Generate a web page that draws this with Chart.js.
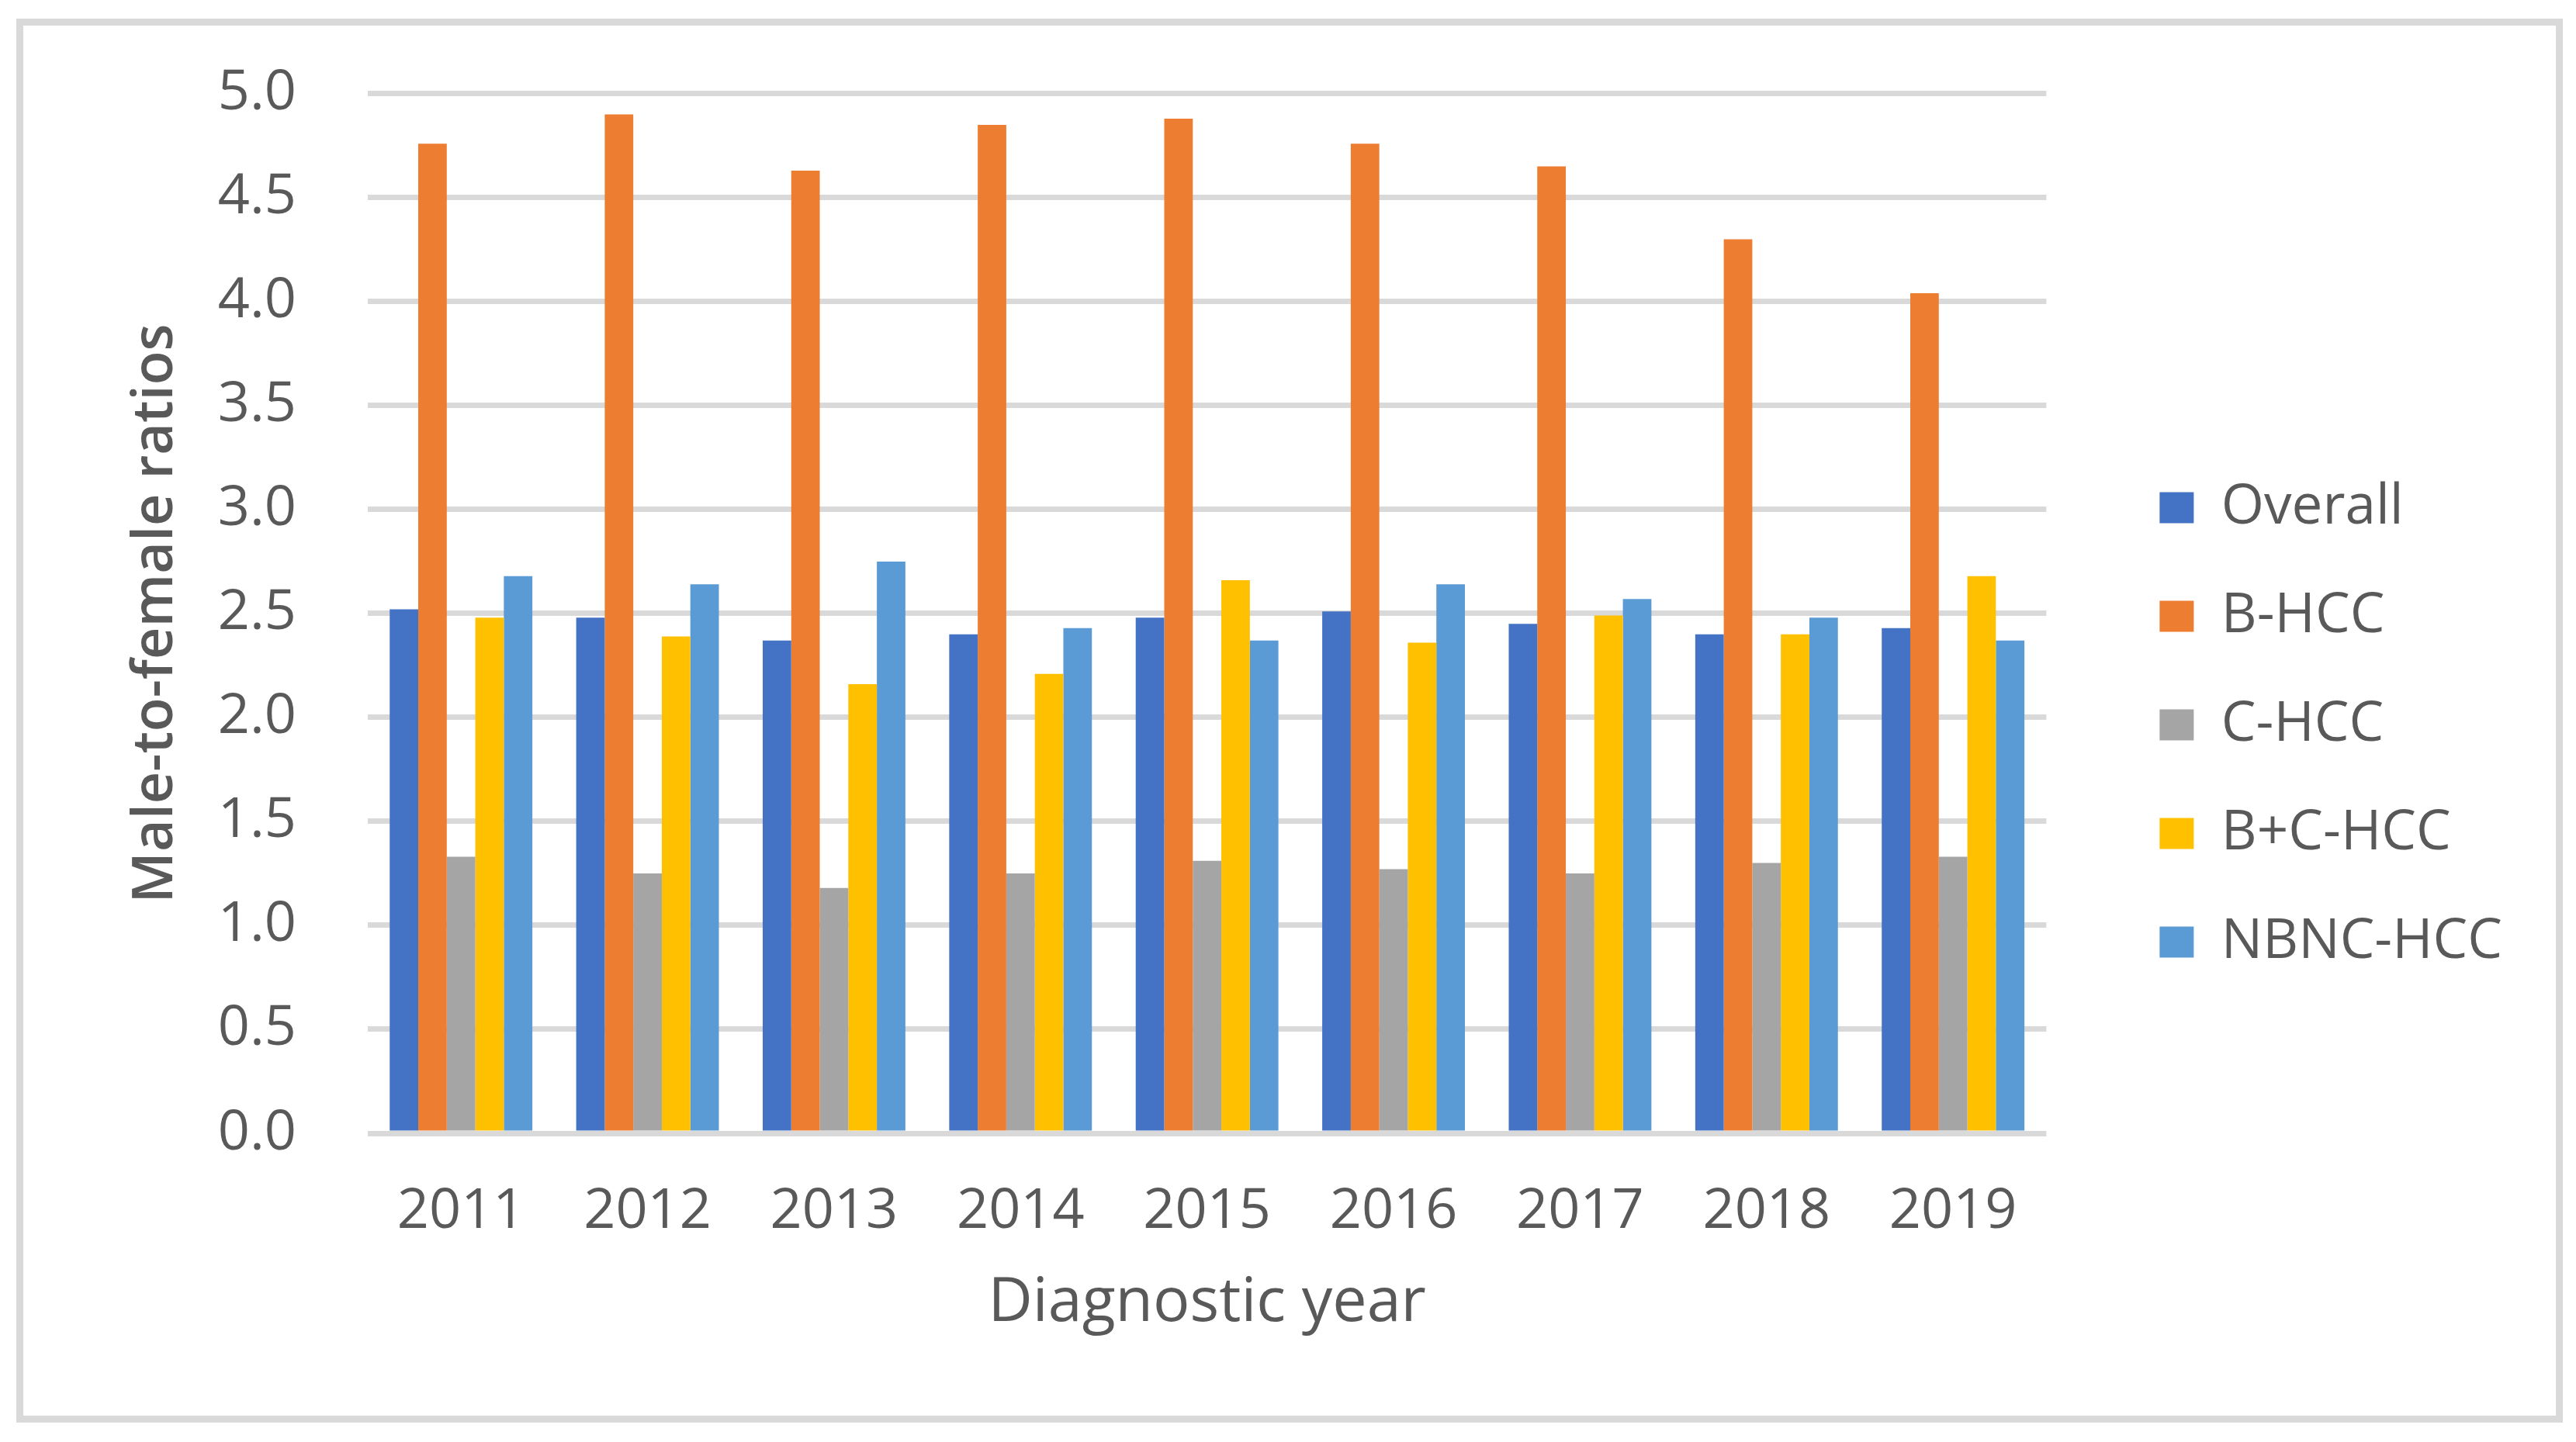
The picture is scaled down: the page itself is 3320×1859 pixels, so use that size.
<!DOCTYPE html>
<html>
<head>
<meta charset="utf-8">
<script src="https://cdn.jsdelivr.net/npm/chart.js@4.4.1/dist/chart.umd.min.js"></script>
<style>
html,body{margin:0;padding:0;background:#fff;}
#wrap{position:relative;width:3320px;height:1859px;}
#frame{position:absolute;left:21px;top:24px;width:3264px;height:1792px;border:9px solid #d9d9d9;pointer-events:none;}
canvas{position:absolute;left:0;top:0;}
</style>
</head>
<body>
<div id="wrap">
<canvas id="c" width="3320" height="1859"></canvas>
<div id="frame"></div>
</div>
<script>
const years=['2011','2012','2013','2014','2015','2016','2017','2018','2019'];
const overall=[2.52,2.48,2.37,2.40,2.48,2.51,2.45,2.40,2.43];
const bHCC=[4.76,4.90,4.63,4.85,4.88,4.76,4.65,4.30,4.04];
const cHCC=[1.33,1.25,1.18,1.25,1.31,1.27,1.25,1.30,1.33];
const bcHCC=[2.48,2.39,2.16,2.21,2.66,2.36,2.49,2.40,2.68];
const nbncHCC=[2.68,2.64,2.75,2.43,2.37,2.64,2.57,2.48,2.37];
const seriesNames=['Overall','B-HCC','C-HCC','B+C-HCC','NBNC-HCC'];
const seriesColors=['#4472C4','#ED7D31','#A5A5A5','#FFC000','#5B9BD5'];
const yTicks=[0,0.5,1,1.5,2,2.5,3,3.5,4,4.5,5];

const txt='#595959';
const fam='"Open Sans", sans-serif';

// push legend away from the plot and up a bit, like in the excel original
const legendShift={id:'legendShift',afterLayout(c){
  const lg=c.legend; lg.left+=77; lg.right+=77; lg.top-=45; lg.bottom-=45;
}};

const ds=[overall,bHCC,cHCC,bcHCC,nbncHCC].map((d,i)=>({
  label:seriesNames[i], data:d, backgroundColor:seriesColors[i], borderWidth:0,
  categoryPercentage:0.765, barPercentage:1
}));

new Chart(document.getElementById('c'),{
  type:'bar',
  data:{labels:years,datasets:ds},
  plugins:[legendShift],
  options:{
    responsive:false, animation:false, devicePixelRatio:1,
    layout:{padding:{top:100,right:162,bottom:0,left:0}},
    plugins:{
      tooltip:{enabled:false},
      legend:{position:'right',
        labels:{color:txt,font:{family:fam,size:71},boxWidth:44,boxHeight:40,padding:69}}
    },
    scales:{
      x:{
        grid:{display:false,drawTicks:false},
        border:{display:false},
        ticks:{color:txt,font:{family:fam,size:72},padding:58,maxRotation:0},
        title:{display:true,text:'Diagnostic year',color:txt,font:{family:fam,size:79},padding:{top:131,bottom:131}},
        afterFit(s){ s.height=398; }
      },
      y:{
        min:0,max:5,
        afterBuildTicks(s){ s.ticks=yTicks.map(v=>({value:v})); },
        grid:{color:'#d9d9d9',lineWidth:7,drawTicks:false},
        border:{display:false},
        // small lineHeight keeps the top label from pushing the plot down
        ticks:{color:txt,font:{family:fam,size:72,lineHeight:0.8},padding:92,callback:v=>v.toFixed(1)},
        title:{display:true,text:'Male-to-female ratios',color:txt,font:{family:fam,size:72,weight:'600'},padding:{top:158,bottom:158}},
        afterFit(s){ s.width=474; }
      }
    }
  }
});
</script>
</body>
</html>
